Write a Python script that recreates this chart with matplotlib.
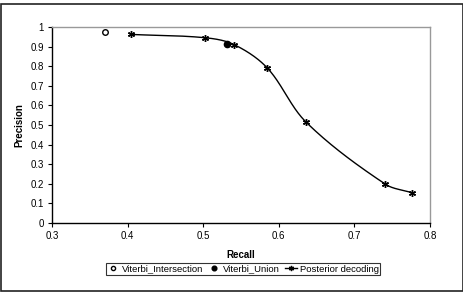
import numpy as np
import matplotlib

matplotlib.use("Agg")
import matplotlib.pyplot as plt
from matplotlib.patches import Rectangle

plt.rcParams["font.family"] = ["Liberation Sans", "DejaVu Sans"]

inter_recall = [0.370]
inter_precision = [0.975]
union_recall = [0.531]
union_precision = [0.912]
post_recall = [0.405, 0.503, 0.541, 0.585, 0.636, 0.741, 0.776]
post_precision = [0.962, 0.945, 0.910, 0.790, 0.515, 0.198, 0.155]


def smooth_curve(xs, ys, sx=756.0, sy=196.0, steps=40):
    # smoothed line like Excel's: Bezier segments, tangent along neighbour chord,
    # handle length a third of the segment, worked in screen-like units
    pts = np.column_stack([np.asarray(xs) * sx, np.asarray(ys) * sy])
    n = len(pts)
    out = [pts[0]]
    t = np.linspace(0, 1, steps)[1:]

    def unit(v):
        d = np.hypot(*v)
        return v / d if d else v

    for i in range(n - 1):
        p0 = pts[i - 1] if i > 0 else pts[i]
        p1, p2 = pts[i], pts[i + 1]
        p3 = pts[i + 2] if i + 2 < n else pts[i + 1]
        seg_len = np.hypot(*(p2 - p1))
        c1 = p1 + unit(p2 - p0) * seg_len / 3.0
        c2 = p2 - unit(p3 - p1) * seg_len / 3.0
        seg = ((1 - t) ** 3)[:, None] * p1 + (3 * (1 - t) ** 2 * t)[:, None] * c1 \
            + (3 * (1 - t) * t ** 2)[:, None] * c2 + (t ** 3)[:, None] * p2
        out.extend(seg)
    out = np.array(out)
    return out[:, 0] / sx, out[:, 1] / sy


fig = plt.figure(figsize=(4.64, 2.92), dpi=100)
fig.patches.append(Rectangle((0.002, 0.002), 0.996, 0.986, transform=fig.transFigure,
                             fill=False, edgecolor="#222222", linewidth=1.2))
ax = fig.add_axes([52 / 464, 1 - 223 / 292, 378 / 464, 196 / 292])

cx, cy = smooth_curve(post_recall, post_precision)
ax.plot(cx, cy, color="black", linewidth=1.0, zorder=2)
ax.plot(post_recall, post_precision, linestyle="none", marker=(6, 2, 0), markersize=5,
        markeredgecolor="black", markeredgewidth=1.0, zorder=3)
ax.plot([], [], color="black", linewidth=1.0, marker=(6, 2, 0), markersize=5,
        markeredgewidth=1.0, label="Posterior decoding")
ax.plot(inter_recall, inter_precision, linestyle="none", marker="o", markersize=4,
        markerfacecolor="white", markeredgecolor="black", markeredgewidth=1.0,
        label="Viterbi_Intersection", zorder=3)
ax.plot(union_recall, union_precision, linestyle="none", marker="o", markersize=4.5,
        color="black", label="Viterbi_Union", zorder=3)

ax.set_xlim(0.3, 0.8)
ax.set_ylim(0, 1)
ax.set_xticks(np.arange(0.3, 0.81, 0.1))
ax.set_xticklabels(["0.3", "0.4", "0.5", "0.6", "0.7", "0.8"])
ax.set_yticks(np.arange(0, 1.01, 0.1))
ax.set_yticklabels(["0", "0.1", "0.2", "0.3", "0.4", "0.5", "0.6", "0.7", "0.8", "0.9", "1"])
ax.tick_params(labelsize=7, length=3, width=0.8, color="black", pad=3)
ax.set_xlabel("Recall", fontsize=7, fontweight="bold", labelpad=6)
ax.set_ylabel("Precision", fontsize=7, fontweight="bold", labelpad=4)
for side in ("top", "right"):
    ax.spines[side].set_color("#999999")
    ax.spines[side].set_linewidth(1.0)
for side in ("left", "bottom"):
    ax.spines[side].set_color("black")
    ax.spines[side].set_linewidth(1.0)

handles, labels = ax.get_legend_handles_labels()
order = [1, 2, 0]
leg = fig.legend([handles[i] for i in order], [labels[i] for i in order],
                 loc="center", bbox_to_anchor=(243 / 464, 1 - 269 / 292), ncol=3,
                 fontsize=6.8, frameon=True, fancybox=False, handlelength=1.2,
                 handletextpad=0.3, columnspacing=0.6, borderpad=0.2, borderaxespad=0,
                 markerscale=0.75)
leg.get_frame().set_edgecolor("black")
leg.get_frame().set_linewidth(0.8)

fig.savefig("out.png", dpi=100)
